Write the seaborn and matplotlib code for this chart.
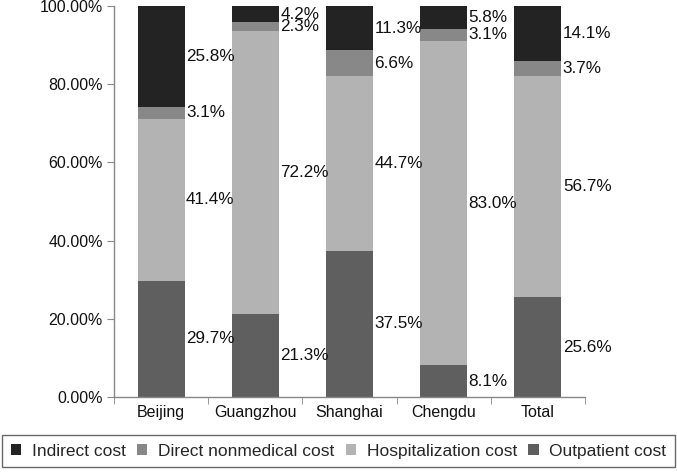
import numpy as np
import pandas as pd
import matplotlib
matplotlib.use("Agg")
import matplotlib.pyplot as plt
import seaborn as sns
from matplotlib.patches import Patch

# data (percent of total cost)
cities = ["Beijing", "Guangzhou", "Shanghai", "Chengdu", "Total"]
outpatient = [29.7, 21.3, 37.5, 8.1, 25.6]
hospitalization = [41.4, 72.2, 44.7, 83.0, 56.7]
direct_nonmed = [3.1, 2.3, 6.6, 3.1, 3.7]
indirect = [25.8, 4.2, 11.3, 5.8, 14.1]

series = ["Outpatient cost", "Hospitalization cost", "Direct nonmedical cost", "Indirect cost"]
colors = {"Outpatient cost": "#5f5f5f", "Hospitalization cost": "#b3b3b3",
          "Direct nonmedical cost": "#888888", "Indirect cost": "#232323"}

sns.set_style("white")
plt.rcParams["font.family"] = ["Liberation Sans", "DejaVu Sans"]

df = pd.DataFrame({"city": cities, "Outpatient cost": outpatient,
                   "Hospitalization cost": hospitalization,
                   "Direct nonmedical cost": direct_nonmed,
                   "Indirect cost": indirect})
vals = df[series].to_numpy()
cum = np.cumsum(vals, axis=1)
# scale so the top of each stack is exactly 100%
cum = cum / cum[:, -1:] * 100

fig = plt.figure(figsize=(6.77, 4.73), dpi=100)
ax = fig.add_axes([114 / 677, 1 - 397 / 473, 471 / 677, 391 / 473])

# draw from the top layer down so lower layers sit on top
for i in range(len(series) - 1, -1, -1):
    sns.barplot(x=df["city"], y=cum[:, i], color=colors[series[i]], width=0.5,
                ax=ax, saturation=1, edgecolor="none", linewidth=0)

for j in range(len(cities)):
    bottom = 0
    for i, s in enumerate(series):
        v = vals[j, i]
        top = cum[j, i]
        ax.text(j + 0.265, (bottom + top) / 2, f"{v:.1f}%", ha="left", va="center",
                fontsize=12.3, color="#111111")
        bottom = top

ax.set_xlim(-0.5, 4.5)
ax.set_ylim(0, 100)
ax.set_yticks([0, 20, 40, 60, 80, 100])
ax.set_yticklabels([f"{t:.2f}%" for t in [0, 20, 40, 60, 80, 100]])
ax.set_xticks(range(len(cities)))
ax.set_xticklabels(cities)
ax.set_xticks(np.arange(-0.5, 5, 1), minor=True)
ax.tick_params(axis="x", which="major", length=0, labelsize=11.5, pad=6, colors="#111111")
ax.tick_params(axis="x", which="minor", length=5, direction="out", color="#888888", bottom=True)
ax.tick_params(axis="y", length=5, direction="out", color="#888888", labelsize=11.5,
               labelcolor="#111111", left=True, pad=3)
ax.set_xlabel("")
ax.set_ylabel("")
sns.despine(ax=ax, top=True, right=True)
for sp in ["left", "bottom"]:
    ax.spines[sp].set_color("#888888")
    ax.spines[sp].set_linewidth(1)

handles = [Patch(facecolor=colors[s], edgecolor="none") for s in series[::-1]]
leg = fig.legend(handles, series[::-1], loc="center", ncol=4, mode="expand",
                 bbox_to_anchor=(2 / 677, 3 / 473, 673 / 677, 38 / 473),
                 fontsize=12.5, frameon=True, fancybox=False, handlelength=0.6,
                 handleheight=0.6, handletextpad=0.6, columnspacing=1.2,
                 borderaxespad=0, borderpad=0.5)
leg.get_frame().set_edgecolor("#444444")
leg.get_frame().set_linewidth(1)

fig.savefig("out.png", dpi=100)
